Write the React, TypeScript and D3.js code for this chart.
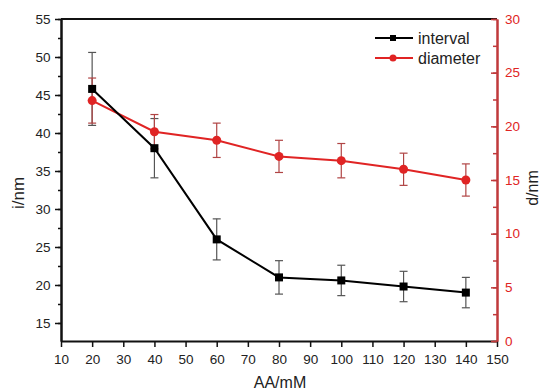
import React, { useRef, useEffect } from 'react';
import * as d3 from 'd3';

const aa = [20, 40, 60, 80, 100, 120, 140];
const interval = [45.8, 38.0, 26.0, 21.0, 20.6, 19.8, 19.0];
const intervalErr = [4.8, 3.9, 2.7, 2.2, 2.0, 2.0, 2.0];
const diameter = [22.4, 19.5, 18.7, 17.2, 16.8, 16.0, 15.0];
const diameterErr = [2.1, 1.6, 1.6, 1.5, 1.6, 1.5, 1.5];
const xTicks = d3.range(10, 151, 10);
const leftTicks = [15, 20, 25, 30, 35, 40, 45, 50, 55];
const rightTicks = [0, 5, 10, 15, 20, 25, 30];

const RED = '#e02424';
const AXRED = '#c0393b';

const App = () => {
  const svgRef = useRef(null);

  useEffect(() => {
    const svg = d3.select(svgRef.current);
    svg.selectAll('*').remove();
    const font = 'Liberation Sans, Arial, sans-serif';

    const left = 61, right = 497, top = 19, bottom = 341;
    const x = d3.scaleLinear().domain([10, 150]).range([left, right]);
    const yL = d3.scaleLinear().domain([12.63, 55]).range([bottom, top]);
    const yR = d3.scaleLinear().domain([0, 30]).range([bottom, top]);

    // top border
    svg.append('line')
      .attr('x1', left).attr('x2', right).attr('y1', top).attr('y2', top)
      .attr('stroke', '#111').attr('stroke-width', 2);

    // bottom axis
    const gx = svg.append('g').attr('transform', `translate(0,${bottom})`)
      .call(d3.axisBottom(x).tickValues(d3.range(10, 151, 5)).tickSize(5).tickFormat(() => '').tickSizeOuter(0));
    gx.call(d3.axisBottom(x).tickValues(xTicks).tickSize(6).tickSizeOuter(0));
    gx.selectAll('path').attr('stroke', '#111').attr('stroke-width', 2);
    gx.selectAll('line').attr('stroke', '#111').attr('stroke-width', 1.5);
    gx.selectAll('text').attr('font-family', font).attr('font-size', 13.5).attr('fill', '#222').attr('dy', '1.05em');

    // left axis
    const gl = svg.append('g').attr('transform', `translate(${left},0)`);
    gl.append('g').call(d3.axisLeft(yL).tickValues(d3.range(15, 55.1, 2.5)).tickSize(3).tickFormat(() => '').tickSizeOuter(0));
    gl.append('g').call(d3.axisLeft(yL).tickValues(leftTicks).tickSize(6).tickSizeOuter(0));
    gl.selectAll('path').attr('stroke', '#111').attr('stroke-width', 2);
    gl.selectAll('line').attr('stroke', '#111').attr('stroke-width', 1.5);
    gl.selectAll('text').attr('font-family', font).attr('font-size', 13.5).attr('fill', '#222').attr('x', -10.5);

    // right axis (ticks inward)
    const gr = svg.append('g').attr('transform', `translate(${right},0)`);
    gr.append('g').call(d3.axisRight(yR).tickValues(d3.range(0, 30.1, 2.5)).tickSize(-4).tickFormat(() => '').tickSizeOuter(0));
    gr.append('g').call(d3.axisRight(yR).tickValues(rightTicks).tickSize(-6).tickSizeOuter(0));
    gr.selectAll('path').attr('stroke', AXRED).attr('stroke-width', 2);
    gr.selectAll('line').attr('stroke', AXRED).attr('stroke-width', 1.5);
    gr.selectAll('text').attr('font-family', font).attr('font-size', 13.5).attr('fill', RED).attr('x', 8);

    // error bars
    const errBars = (vals, errs, y, color) => {
      const g = svg.append('g').attr('stroke', color).attr('stroke-width', 1.2);
      aa.forEach((a, i) => {
        const cx = x(a);
        const y1 = y(vals[i] + errs[i]);
        const y2 = y(vals[i] - errs[i]);
        g.append('line').attr('x1', cx).attr('x2', cx).attr('y1', y1).attr('y2', y2);
        g.append('line').attr('x1', cx - 4).attr('x2', cx + 4).attr('y1', y1).attr('y2', y1);
        g.append('line').attr('x1', cx - 4).attr('x2', cx + 4).attr('y1', y2).attr('y2', y2);
      });
    };
    errBars(interval, intervalErr, yL, '#555');
    errBars(diameter, diameterErr, yR, '#b04444');

    // diameter line
    svg.append('path')
      .datum(diameter)
      .attr('d', d3.line().x((d, i) => x(aa[i])).y(d => yR(d)))
      .attr('fill', 'none').attr('stroke', RED).attr('stroke-width', 2);
    svg.append('g').selectAll('circle').data(diameter).enter().append('circle')
      .attr('cx', (d, i) => x(aa[i])).attr('cy', d => yR(d)).attr('r', 4.5).attr('fill', RED);

    // interval line
    svg.append('path')
      .datum(interval)
      .attr('d', d3.line().x((d, i) => x(aa[i])).y(d => yL(d)))
      .attr('fill', 'none').attr('stroke', '#000').attr('stroke-width', 2);
    svg.append('g').selectAll('rect').data(interval).enter().append('rect')
      .attr('x', (d, i) => x(aa[i]) - 4).attr('y', d => yL(d) - 4)
      .attr('width', 8).attr('height', 8).attr('fill', '#000');

    // legend
    const legend = [
      { name: 'interval', color: '#000', shape: 'rect' },
      { name: 'diameter', color: RED, shape: 'circle' }
    ];
    legend.forEach((l, i) => {
      const ly = 38 + i * 20;
      const g = svg.append('g');
      g.append('line').attr('x1', 375).attr('x2', 413).attr('y1', ly).attr('y2', ly)
        .attr('stroke', l.color).attr('stroke-width', 2);
      if (l.shape === 'rect') {
        g.append('rect').attr('x', 390).attr('y', ly - 3).attr('width', 6).attr('height', 6).attr('fill', l.color);
      } else {
        g.append('circle').attr('cx', 393).attr('cy', ly).attr('r', 3.5).attr('fill', l.color);
      }
      g.append('text').attr('x', 418).attr('y', ly).attr('dy', '0.35em')
        .attr('font-family', font).attr('font-size', 16).attr('fill', '#222').text(l.name);
    });

    // axis titles
    svg.append('text').attr('x', 280).attr('y', 388).attr('text-anchor', 'middle')
      .attr('font-family', font).attr('font-size', 16).attr('fill', '#222').text('AA/mM');
    svg.append('text').attr('transform', 'translate(24,193) rotate(-90)').attr('text-anchor', 'middle')
      .attr('font-family', font).attr('font-size', 17).attr('fill', '#222').text('i/nm');
    svg.append('text').attr('transform', 'translate(538,188) rotate(-90)').attr('text-anchor', 'middle')
      .attr('font-family', font).attr('font-size', 16).attr('fill', '#222').text('d/nm');
  }, []);

  return (
    <svg ref={svgRef} width={540} height={392}
      style={{ position: 'absolute', left: 0, top: 0, background: '#fff' }} />
  );
};

export default App;
